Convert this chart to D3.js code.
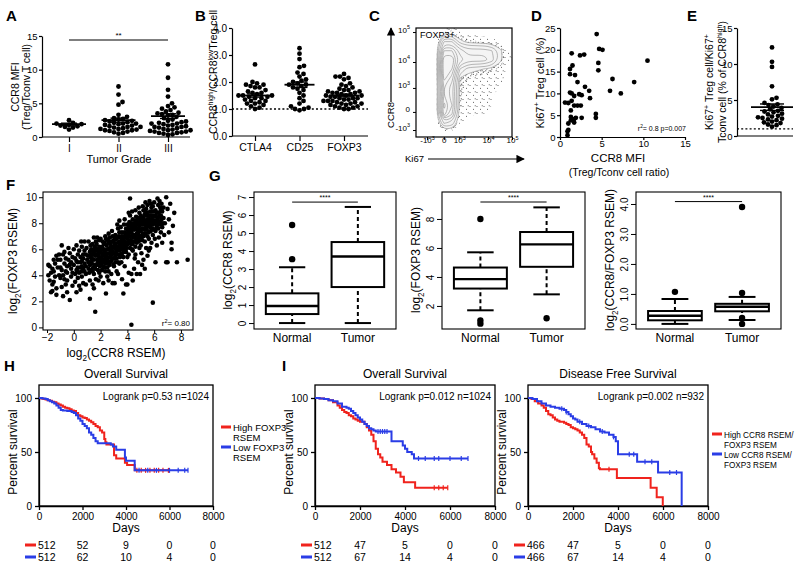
<!DOCTYPE html>
<html><head><meta charset="utf-8">
<script src="https://cdn.jsdelivr.net/npm/d3@7"></script>
<style>
html,body{margin:0;padding:0;background:#fff;}
svg{display:block;}
</style></head><body>
<svg id="fig" width="800" height="568"></svg>
<script>
// ================= DATA =================
// Panel A
const aGrades = ["I","II","III"];
const aGradeI = [2.5,2.1,2.0,1.9,1.8,1.7,1.6,1.5,1.4,1.1];
const aGradeII = [7.5,6.3,5.2,4.8,3.3,3.0,2.8,2.7,2.6,2.5,2.4,2.3,2.2,2.1,2.0,1.9,1.8,1.7,1.6,1.5,1.4,1.3,1.2,1.1,1.0,0.9,0.8,0.7,0.6,0.5,1.0,1.2,1.5,2.0];
const aGradeIII = [10.8,8.8,7.0,6.0,5.0,4.6,4.4,4.2,4.0,3.8,3.6,3.5,3.4,3.3,3.2,3.0,2.8,2.6,2.4,2.3,2.2,2.1,2.0,1.9,1.8,1.7,1.6,1.5,1.4,1.3,1.2,1.1,1.0,0.9,0.8,0.7,0.6,0.5,0.4,0.3,1.5,2.0,1.0,0.8,0.6];
const aMeans = [1.9,2.5,3.1];
const aSems = [0.15,0.3,0.35];
const aTicks = [0,5,10,15];
// Panel B
const bMarkers = ["CTLA4","CD25","FOXP3"];
const bCTLA4 = [2.65,2.0,1.95,1.9,1.9,1.85,1.8,1.8,1.7,1.65,1.6,1.6,1.55,1.5,1.5,1.45,1.4,1.4,1.35,1.3,1.3,1.25,1.2,1.2,1.15,1.1,1.05,1.0,1.5,1.45];
const bCD25 = [3.25,3.05,2.85,2.6,2.55,2.35,2.2,2.1,2.05,2.0,1.95,1.9,1.9,1.85,1.8,1.75,1.7,1.6,1.5,1.4,1.3,1.2,1.1,1.05,1.0,1.0,0.95,2.3];
const bFOXP3 = [2.3,2.2,2.2,2.15,2.1,1.95,1.9,1.85,1.8,1.75,1.7,1.7,1.65,1.6,1.6,1.55,1.55,1.5,1.5,1.5,1.45,1.45,1.4,1.4,1.4,1.35,1.35,1.3,1.3,1.3,1.25,1.25,1.2,1.2,1.2,1.15,1.15,1.1,1.1,1.05,1.05,1.0,1.0,1.6,1.65];
const bMeans = [1.5,1.9,1.5];
const bSems = [0.06,0.1,0.05];
const bTicks = [0,1,2,3,4];
// Panel C (flow plot, display channel 0..1)
const cXTicks = [0.115,0.29,0.45,0.75,1.0];
const cYTicks = [0.064,0.23,0.45,0.688,0.963];
const cTickBase = ["-10","0","10","10","10"];
const cTickExp = ["3","","3","4","5"];
const cDensity = [
 [0,0,0,0.6,0.8,0.3,0.2,0.1,0,0,0,0],
 [0,0,0,4,4,1.5,0.9,0.8,0.7,0.5,0.3,0],
 [0,0,0.1,7,7,4.5,3.5,3.5,3.5,3,1.5,0.3],
 [0,0,0.1,9,9,5.5,4.5,4.5,4.5,3.5,1.5,0.3],
 [0,0,0.1,9,8,3,1.6,1.4,1.2,1,0.6,0.2],
 [0,0,0.1,8.5,6.5,1.2,0.8,0.6,0.5,0.45,0.4,0.2],
 [0,0,0.1,7,5.5,0.9,0.6,0.5,0.45,0.4,0.3,0.1],
 [0,0,0.1,7,5.5,0.8,0.5,0.45,0.4,0.3,0.25,0.1],
 [0,0,0.1,8.5,6,0.8,0.5,0.4,0.3,0.3,0.2,0.1],
 [0,0,0.1,7.5,5,0.6,0.4,0.3,0.3,0.2,0.1,0],
 [0,0,0,3,2.5,0.3,0.2,0.1,0.1,0,0,0],
 [0,0,0,0.2,0.2,0,0,0,0,0,0,0]
];
const cLevels = [0.3,0.75,1.2,2,3,4,5,6,7,8];
// Panel D
const dPoints = [[4.4,23.6],[4.7,20.2],[5.1,20.0],[1.4,19.2],[2.4,18.7],[2.9,18.9],[10.5,17.5],[4.6,17.0],[4.6,15.3],[1.5,16.4],[1.2,15.6],[1.2,14.4],[1.8,14.2],[6.3,13.3],[8.9,12.6],[2.1,12.6],[3.0,11.5],[6.0,10.6],[7.3,10.0],[3.5,10.6],[1.2,10.2],[1.4,10.0],[2.3,9.8],[2.6,9.6],[3.6,8.9],[1.7,9.4],[0.6,7.9],[1.0,7.8],[1.4,8.3],[1.7,7.2],[2.1,7.2],[2.5,7.2],[1.3,6.1],[4.3,5.3],[4.3,4.4],[1.3,4.6],[1.7,4.1],[1.9,4.4],[2.6,4.4],[1.3,3.8],[1.7,3.3],[1.0,3.1],[1.0,1.6],[0.9,1.3],[0.9,0.4]];
const dXTicks = [0,5,10,15];
const dYTicks = [0,5,10,15,20,25];
// Panel E
const eValues = [12.3,10.3,9.6,6.9,5.3,5.1,4.6,4.4,4.3,4.1,3.9,3.7,3.5,3.4,3.3,3.1,3.0,2.8,2.7,2.6,2.5,2.4,2.3,2.2,2.0,1.9,1.8,1.6,1.5,1.3];
const eMean = 4.0, eSem = 0.45;
const eTicks = [0,5,10,15];
// Panel F
const fPoints = [
[-1.9,4.8],[-1.8,4.7],[-1.7,4.2],[-1.8,3.6],[-1.6,2.8],[-1.5,3.5],[-1.4,4.9],[-1.3,5.5],[-1.2,4.6],[-1.1,4.0],[-1.5,5.2],[-1.7,2.7],[-1.3,3.0],[-1.0,3.8],[-1.2,5.2],[-1.9,4.0],[-1.6,4.5],[-1.4,3.9],[-1.1,5.6],[-1.0,4.6],[-1.3,2.5],[-1.6,3.3],
[-0.9,6.3],[-0.8,5.6],[-0.7,4.9],[-0.6,4.3],[-0.5,3.6],[-0.4,5.2],[-0.3,2.1],[-0.9,3.1],[-0.8,4.0],[-0.7,5.8],[-0.6,3.3],[-0.5,4.7],[-0.4,6.1],[-0.2,4.5],[-0.1,5.4],[-0.2,3.9],[-0.1,3.2],[-0.9,4.4],[-0.6,5.3],[-0.3,4.8],[-0.5,2.7],[-0.8,2.4],[-0.3,5.7],[-0.1,4.2],[-0.7,3.7],
[0.0,4.8],[0.1,5.3],[0.2,4.4],[0.3,3.8],[0.4,5.9],[0.5,4.6],[0.6,5.1],[0.7,3.4],[0.8,4.9],[0.9,5.6],[0.1,3.5],[0.2,6.3],[0.3,5.0],[0.4,4.2],[0.5,2.9],[0.6,6.2],[0.7,4.5],[0.8,5.9],[0.9,4.1],[1.0,5.2],[0.0,6.0],[0.2,2.7],[0.3,4.6],[0.5,5.4],[0.6,3.9],[0.8,6.6],[0.9,3.3],[0.4,3.2],[0.7,5.6],[0.1,4.1],[0.3,5.6],[0.6,4.3],[0.8,4.3],[0.95,6.1],[0.55,6.6],
[1.1,4.5],[1.2,5.8],[1.3,5.1],[1.4,6.4],[1.5,4.1],[1.6,5.5],[1.7,4.8],[1.8,6.0],[1.9,5.3],[1.1,6.6],[1.2,3.6],[1.3,4.4],[1.4,5.6],[1.5,6.9],[1.6,4.5],[1.7,6.4],[1.8,5.0],[1.9,4.2],[1.6,1.2],[1.2,2.2],[1.4,3.3],[1.5,5.2],[1.7,5.6],[1.8,4.4],[1.3,6.0],[1.9,6.7],[1.1,5.0],[1.5,3.0],[1.65,3.7],[1.35,4.9],[1.75,6.9],[1.95,5.9],[1.25,5.4],[1.55,6.2],[1.85,3.6],[1.45,4.6],
[2.0,5.1],[2.1,6.2],[2.2,4.7],[2.3,5.8],[2.4,6.8],[2.5,5.4],[2.6,4.3],[2.7,6.1],[2.8,5.6],[2.9,7.0],[2.0,6.8],[2.1,4.4],[2.2,5.5],[2.3,6.5],[2.4,4.9],[2.5,6.0],[2.6,7.2],[2.7,5.0],[2.8,6.6],[2.9,5.3],[2.0,3.9],[2.2,3.4],[2.4,2.6],[2.6,3.6],[2.8,4.1],[2.1,5.7],[2.3,5.1],[2.5,4.6],[2.7,6.9],[2.9,6.1],[2.15,6.6],[2.35,4.3],[2.55,5.1],[2.75,5.9],[2.95,4.8],[2.05,4.8],[2.45,6.3],[2.65,5.7],[2.85,7.4],[2.25,6.0],[2.6,6.5],[2.9,3.4],[2.35,7.0],[2.8,5.1],[2.5,3.9],
[3.0,6.2],[3.1,5.5],[3.2,6.8],[3.3,5.0],[3.4,7.3],[3.5,6.4],[3.6,5.7],[3.7,7.0],[3.8,6.1],[3.9,7.6],[3.0,4.7],[3.1,7.1],[3.2,5.3],[3.3,6.5],[3.4,5.9],[3.5,7.7],[3.6,6.7],[3.7,5.4],[3.8,7.3],[3.9,6.5],[3.0,5.7],[3.1,6.4],[3.2,4.3],[3.3,7.6],[3.4,4.9],[3.5,5.5],[3.6,7.3],[3.7,6.2],[3.8,4.7],[3.9,5.8],[3.05,3.4],[3.25,7.9],[3.45,6.9],[3.65,6.0],[3.85,6.9],[3.15,6.0],[3.35,5.6],[3.55,6.1],[3.75,6.6],[3.95,7.0],[3.6,3.7],[3.7,2.6],[3.9,3.3],[3.4,8.2],[3.8,8.3],[3.3,4.1],[3.55,5.0],[3.75,7.9],[3.1,5.0],[3.45,6.3],
[4.0,6.8],[4.1,7.4],[4.2,6.1],[4.3,8.0],[4.4,7.1],[4.5,6.6],[4.6,7.8],[4.7,7.2],[4.8,8.4],[4.9,6.9],[4.0,7.9],[4.1,5.6],[4.2,7.0],[4.3,6.4],[4.4,8.3],[4.5,7.5],[4.6,6.2],[4.7,8.1],[4.8,7.6],[4.9,8.8],[4.0,5.4],[4.1,6.6],[4.2,8.6],[4.3,7.3],[4.4,5.9],[4.5,8.0],[4.6,7.0],[4.7,6.5],[4.8,6.8],[4.9,7.8],[4.05,7.2],[4.25,6.7],[4.45,7.7],[4.65,8.5],[4.85,7.1],[4.15,8.1],[4.35,6.0],[4.55,7.1],[4.75,7.5],[4.95,8.3],[4.2,9.9],[4.3,0.2],[4.1,4.2],[4.3,4.1],[4.5,4.5],[4.6,5.6],[4.8,5.0],[4.9,6.1],[4.4,3.6],[4.0,3.3],[4.7,4.1],[4.1,8.8],[4.6,9.0],[4.35,8.9],[4.55,5.3],[4.85,9.2],[4.95,4.1],
[5.0,7.4],[5.1,8.1],[5.2,7.0],[5.3,8.7],[5.4,7.7],[5.5,8.3],[5.6,7.3],[5.7,8.9],[5.8,7.9],[5.9,8.5],[5.0,8.6],[5.1,6.7],[5.2,8.4],[5.3,7.5],[5.4,9.1],[5.5,7.0],[5.6,8.6],[5.7,7.7],[5.8,9.2],[5.9,7.6],[5.0,6.3],[5.1,7.6],[5.2,9.0],[5.3,6.6],[5.4,8.2],[5.5,9.4],[5.6,6.8],[5.7,8.2],[5.8,8.6],[5.9,9.3],[5.05,5.7],[5.25,7.9],[5.45,8.8],[5.65,7.9],[5.85,8.1],[5.15,9.3],[5.35,8.0],[5.55,8.0],[5.75,9.5],[5.95,8.9],[5.2,5.2],[5.4,6.1],[5.6,5.9],[5.8,6.5],[5.3,4.5],[5.9,1.9],[5.5,5.5],[5.7,6.1],[5.1,4.8],[5.9,7.1],[5.35,9.6],[5.65,9.7],
[6.0,8.2],[6.1,9.0],[6.2,7.7],[6.3,9.4],[6.4,8.5],[6.5,7.3],[6.6,8.9],[6.7,9.2],[6.8,8.0],[6.9,10.0],[6.0,9.6],[6.1,7.4],[6.2,8.8],[6.3,8.1],[6.4,9.7],[6.5,8.6],[6.6,7.7],[6.7,8.4],[6.05,6.8],[6.1,5.0],[6.25,9.9],[6.45,9.2],[6.35,6.9],[6.55,9.5],[6.2,6.3],[6.6,6.5],[6.15,8.5],[6.75,7.1],[6.9,5.0],[6.4,7.9],[6.0,7.5],
[7.0,9.1],[7.1,8.3],[7.2,9.5],[7.3,6.0],[7.3,6.5],[7.5,8.8],[7.7,5.0],[8.5,5.2],[7.0,5.0],[7.4,7.8],[7.1,7.3],
[1.05,5.5],[1.15,4.2],[1.25,6.3],[1.35,5.3],[1.45,5.9],[1.55,4.8],[1.65,6.6],[1.75,5.2],[1.85,5.7],[1.95,4.7],
[2.05,5.4],[2.15,5.0],[2.25,6.4],[2.35,5.5],[2.45,5.7],[2.55,6.7],[2.65,4.8],[2.75,6.4],[2.85,5.8],[2.95,6.6],
[2.1,6.0],[2.3,4.6],[2.5,5.2],[2.7,5.4],[2.9,5.8],[2.2,5.2],[2.4,5.3],[2.6,6.0],[2.8,6.2],[3.0,6.7],
[3.05,6.4],[3.15,5.7],[3.25,6.2],[3.35,7.0],[3.45,5.4],[3.55,7.0],[3.65,6.4],[3.75,5.8],[3.85,6.3],[3.95,6.1],
[3.1,6.8],[3.2,5.9],[3.3,6.1],[3.4,6.6],[3.5,6.0],[3.6,6.2],[3.7,6.8],[3.8,6.6],[3.9,7.2],[3.0,5.3],
[4.05,6.4],[4.15,7.0],[4.25,7.5],[4.35,6.6],[4.45,6.9],[4.55,7.9],[4.65,6.8],[4.75,7.9],[4.85,6.6],[4.95,7.5],
[4.1,7.8],[4.2,6.5],[4.3,7.7],[4.4,6.4],[4.5,7.1],[4.6,8.2],[4.7,7.6],[4.8,7.3],[4.9,8.1],[4.0,7.5],
[5.05,7.9],[5.15,7.2],[5.25,8.2],[5.35,7.2],[5.45,7.5],[5.55,8.6],[5.65,8.3],[5.75,7.4],[5.85,8.9],[5.95,8.2],
[5.1,8.4],[5.2,7.6],[5.3,8.0],[5.4,8.6],[5.5,7.8],[5.6,7.9],[5.7,8.6],[5.8,8.3],[5.9,7.9],[5.0,7.0],
[6.05,8.6],[6.15,7.9],[6.25,8.3],[6.35,8.8],[6.45,8.1],[6.55,8.3],[6.65,8.0],[6.3,7.6],[6.5,9.0],[6.1,8.1],
[1.5,5.8],[1.7,5.9],[1.9,6.2],[1.3,5.6],[1.8,5.5],[1.6,6.1],[2.0,5.8],[1.4,4.3],[1.2,4.8],[1.9,4.9],
[0.5,5.0],[0.7,5.3],[0.3,4.3],[0.9,4.7],[0.2,5.1],[-0.2,5.0],[-0.5,4.2],[-1.0,5.2],[-1.5,4.3],[0.6,4.7]
];
const fXTicks = [-2,0,2,4,6,8];
const fYTicks = [0,2,4,6,8,10];
// Panel G  (box stats: [low whisker, Q1, median, Q3, high whisker])
const gGroups = ["Normal","Tumor"];
const g1Stats = [[0,0.5,0.95,1.65,3.1],[0,2.0,3.7,4.5,6.45]];
const g1Outliers = [[3.55,5.45],[]];
const g2Stats = [[1.7,3.2,3.85,4.65,5.7],[2.8,4.7,6.25,7.1,8.8]];
const g2Outliers = [[8.0,1.0,0.78],[1.15]];
const g3Stats = [[0,0.12,0.27,0.43,0.83],[0.13,0.42,0.57,0.67,0.9]];
const g3Outliers = [[1.07],[3.9,1.03,0.2,0.0]];
const gSigValues = [6.72,9.17,4.08];
// Panels H / I  (Kaplan-Meier steps: [day, percent surviving])
const kmTicks = [0,2000,4000,6000,8000];
const hHigh = [[0,100],[100,99.5],[200,99],[300,98.5],[400,98],[500,97.5],[600,96.5],[700,96],[800,95],[900,94],[1000,93],[1100,92],[1200,91],[1300,90.5],[1400,89.5],[1500,88.5],[1600,88],[1700,86],[1800,84],[1900,83],[2000,82],[2100,81.5],[2200,80],[2300,79],[2400,77.5],[2500,76],[2600,74],[2700,73],[2800,70],[2900,68],[3000,62],[3050,59],[3100,57],[3450,47],[3550,44],[3950,40],[4050,38],[4400,33],[5950,33]];
const hLow = [[0,100],[150,99.5],[300,99],[400,98],[500,97],[600,96],[700,95],[800,93],[900,91],[1000,89],[1100,88.5],[1300,88],[1500,87],[1600,86],[1700,84],[1800,81],[1900,79],[2000,76],[2100,74],[2200,72],[2300,68],[2400,66],[2500,63],[2600,60],[2700,58],[3300,57],[3400,55],[3550,52],[3950,45],[4000,42],[4400,33],[6850,33]];
const hHighCensor = [4500,4700,4900,5100,5300,5500,5700,5950];
const hLowCensor = [4600,5000,5400,6000,6400,6700,6850];
const iOsHigh = [[0,100],[200,99.5],[400,99],[600,98],[800,96],[1000,93],[1100,91],[1200,89],[1300,87],[1400,86],[1500,84],[1600,83],[1700,81],[1800,80],[1900,79],[2000,78],[2200,76],[2300,73],[2400,70],[2500,66],[2600,60],[2700,53],[2800,48],[2900,45],[3000,41],[3200,38],[3400,34],[3600,31],[3800,27],[3950,22],[4450,17],[5900,17]];
const iOsLow = [[0,100],[200,99.5],[400,99],[600,98],[800,97],[1000,95],[1200,92],[1400,91],[1500,90],[1600,88],[1700,86],[1800,84],[1900,82],[2000,80],[2100,78],[2200,76],[2300,74],[2400,72],[2500,71],[2600,70],[2700,69],[3400,60],[3900,56],[4000,53],[4100,50],[4300,48],[4400,44],[6800,44]];
const iOsHighCensor = [5300,5500,5700,5900];
const iOsLowCensor = [2800,2900,3000,3100,3200,4600,4900,5300,5500,6000,6500,6800];
const iDfsHigh = [[0,100],[150,99],[300,97],[450,95],[600,93],[700,91],[800,88],[900,85],[1000,84],[1100,82],[1200,80],[1300,79],[1400,78],[1600,77],[1700,76],[1800,75],[1900,73],[2000,72],[2100,71],[2200,70],[2300,68],[2400,66],[2500,63],[2600,57],[2700,55],[2800,50],[2850,48],[2950,44],[3050,40],[3150,35],[3200,34],[3950,26],[5450,17],[5720,8],[5990,0]];
const iDfsLow = [[0,100],[200,99],[400,97],[600,95],[800,93],[1000,92],[1200,91],[1400,90],[1600,89],[1700,87],[1800,85],[1900,83],[2000,81],[2100,80],[2200,78],[2400,76],[2600,74],[2800,73],[3000,71],[3200,69],[3400,68],[3600,66],[3800,64],[3900,60],[4000,48],[4850,41],[5780,31],[6830,0]];
const iDfsHighCensor = [3600];
const iDfsLowCensor = [1500,1700,2300,2700,3300,3800,4500,4700,5200,5500,6300,6600];
const hRiskHigh = [512,52,9,0,0], hRiskLow = [512,62,10,4,0];
const iOsRiskHigh = [512,47,5,0,0], iOsRiskLow = [512,67,14,4,0];
const iDfsRiskHigh = [466,47,5,0,0], iDfsRiskLow = [466,67,14,4,0];

// ================= DRAWING =================
const FONT = '"Liberation Sans", Arial, Helvetica, sans-serif';
const RED = "#f0231d", BLUE = "#2a3de6";
const svg = d3.select("#fig").attr("font-family", FONT);
const defs = svg.append("defs");

function styleAxis(g, fs, sw) {
  g.attr("font-family", FONT).attr("font-size", fs);
  g.selectAll(".domain").attr("stroke", "#000").attr("stroke-width", sw || 1.2);
  g.selectAll(".tick line").attr("stroke", "#000").attr("stroke-width", sw || 1.2);
  g.selectAll(".tick text").attr("fill", "#000");
  return g;
}
function rich(t, parts, fs) {
  let shift = 0;
  parts.forEach(p => {
    const k = p[1] || "";
    const target = k === "sup" ? -0.42 * fs : (k === "sub" ? 0.3 * fs : 0);
    const ts = t.append("tspan").attr("dy", target - shift).text(p[0]);
    if (k) ts.attr("font-size", fs * 0.68);
    shift = target;
  });
  return t;
}
function text(x, y, s, fs, anchor) {
  return svg.append("text").attr("x", x).attr("y", y).attr("font-size", fs)
    .attr("text-anchor", anchor || "start").attr("fill", "#000").text(s);
}
function rotText(x, y, fs) {
  return svg.append("text").attr("transform", `translate(${x},${y}) rotate(-90)`)
    .attr("font-size", fs).attr("text-anchor", "middle").attr("fill", "#000");
}
function panelLabel(s, x, y) { text(x, y, s, 15).attr("font-weight", "bold"); }
function hline(x1, x2, y, sw, dash) {
  const l = svg.append("line").attr("x1", x1).attr("x2", x2).attr("y1", y).attr("y2", y)
    .attr("stroke", "#000").attr("stroke-width", sw || 1.2);
  if (dash) l.attr("stroke-dasharray", dash);
  return l;
}
function swarm(vals, cx, y, r) {
  const placed = [];
  const sorted = vals.slice().sort((a, b) => a - b);
  const minD = 1.85 * r;
  for (const v of sorted) {
    const py = y(v);
    for (let k = 0; k < 400; k++) {
      const m = Math.ceil(k / 2) * 0.5;
      const px = cx + (k % 2 === 1 ? m : -m);
      if (!placed.some(p => (p.x - px) ** 2 + (p.y - py) ** 2 < minD * minD)) { placed.push({x: px, y: py}); break; }
    }
  }
  return placed;
}
function dotColumn(vals, cx, y, r, mean, sem, meanW, capW) {
  const g = svg.append("g");
  g.selectAll("circle").data(swarm(vals, cx, y, r)).join("circle")
    .attr("cx", d => d.x).attr("cy", d => d.y).attr("r", r).attr("fill", "#000");
  const ln = (x1, x2, y1, y2, sw) => g.append("line").attr("x1", x1).attr("x2", x2).attr("y1", y1).attr("y2", y2)
    .attr("stroke", "#000").attr("stroke-width", sw);
  ln(cx - meanW / 2, cx + meanW / 2, y(mean), y(mean), 1.8);
  ln(cx, cx, y(mean - sem), y(mean + sem), 1.4);
  ln(cx - capW / 2, cx + capW / 2, y(mean + sem), y(mean + sem), 1.4);
  ln(cx - capW / 2, cx + capW / 2, y(mean - sem), y(mean - sem), 1.4);
}

// ---------- Panel A ----------
{
  panelLabel("A", 6, 21);
  const y = d3.scaleLinear().domain([0, 15]).range([137, 36]);
  const x = d3.scalePoint().domain(aGrades).range([69, 168]);
  styleAxis(svg.append("g").attr("transform", "translate(42,0)")
    .call(d3.axisLeft(y).tickValues(aTicks).tickSize(3).tickPadding(1.5).tickSizeOuter(0)), 9.5);
  const gx = svg.append("g").attr("transform", "translate(0,137)")
    .call(d3.axisBottom(x).tickSize(5).tickSizeOuter(0));
  styleAxis(gx, 10); gx.select(".domain").remove();
  hline(42, 190, 137);
  [aGradeI, aGradeII, aGradeIII].forEach((vals, i) =>
    dotColumn(vals, x(aGrades[i]), y, 2.4, aMeans[i], aSems[i], 34, 16));
  hline(x("I"), x("III"), 40, 1.2);
  text((x("I") + x("III")) / 2, 38, "**", 8, "middle");
  rotText(19, 87, 10.5).text("CCR8 MFI");
  rotText(30, 87, 10.5).text("(Treg/Tconv T cell)");
  text(119, 163, "Tumor Grade", 11, "middle");
}
// ---------- Panel B ----------
{
  panelLabel("B", 195, 21);
  const y = d3.scaleLinear().domain([0, 4]).range([136, 28]);
  const x = d3.scalePoint().domain(bMarkers).range([255, 344]);
  styleAxis(svg.append("g").attr("transform", "translate(232,0)")
    .call(d3.axisLeft(y).tickValues(bTicks).tickSize(3).tickPadding(2).tickSizeOuter(0)), 10);
  const gx = svg.append("g").attr("transform", "translate(0,136)")
    .call(d3.axisBottom(x).tickSize(5).tickSizeOuter(0));
  styleAxis(gx, 10.5); gx.select(".domain").remove();
  hline(232, 368, 136);
  hline(232, 368, y(1), 1.5, "2,2.2");
  [bCTLA4, bCD25, bFOXP3].forEach((vals, i) =>
    dotColumn(vals, x(bMarkers[i]), y, 2.4, bMeans[i], bSems[i], 30, 16));
  rich(rotText(217, 72, 10.5), [["CCR8"], ["high", "sup"], ["/CCR8"], ["low", "sup"], ["Treg cell"]], 10.5);
}
// ---------- Panel C ----------
{
  panelLabel("C", 369, 21);
  const X0 = 416, X1 = 512, Y0 = 28, Y1 = 137;
  const cx = d3.scaleLinear().domain([0, 1]).range([X0, X1]);
  const cy = d3.scaleLinear().domain([0, 1]).range([Y1, Y0]);
  const n = cDensity[0].length, m = cDensity.length;
  const gxs = d3.scaleLinear().domain([0, n]).range([X0, X1]);
  const gys = d3.scaleLinear().domain([0, m]).range([Y0, Y1]);
  const pA = defs.append("pattern").attr("id", "stipA").attr("patternUnits", "userSpaceOnUse").attr("width", 7).attr("height", 7);
  [[1, 1.5], [4.5, 4.2], [6.2, 0.8]].forEach(p => pA.append("circle").attr("cx", p[0]).attr("cy", p[1]).attr("r", 0.5).attr("fill", "#333"));
  const pB = defs.append("pattern").attr("id", "stipB").attr("patternUnits", "userSpaceOnUse").attr("width", 5).attr("height", 5);
  [[0.8, 0.8], [3.3, 2.2], [1.8, 4.0]].forEach(p => pB.append("circle").attr("cx", p[0]).attr("cy", p[1]).attr("r", 0.55).attr("fill", "#222"));
  defs.append("clipPath").attr("id", "cclip").append("rect").attr("x", X0).attr("y", Y0).attr("width", X1 - X0).attr("height", Y1 - Y0);
  const contours = d3.contours().size([n, m]).thresholds(cLevels)(cDensity.flat());
  const ring = d3.line().x(p => gxs(p[0])).y(p => gys(p[1])).curve(d3.curveBasisClosed);
  const pathOf = mp => mp.coordinates.map(poly => poly.map(r => ring(r.slice(0, -1))).join("")).join("");
  const gc = svg.append("g").attr("clip-path", "url(#cclip)");
  contours.forEach((c, i) => {
    const p = gc.append("path").attr("d", pathOf(c)).attr("fill-rule", "evenodd");
    if (i === 0) p.attr("fill", "url(#stipA)").attr("stroke", "none");
    else if (i === 1) p.attr("fill", "url(#stipB)").attr("stroke", "none");
    else if (i === 2) p.attr("fill", "#f4f4f4").attr("stroke", "#8a8a8a").attr("stroke-width", 0.6);
    else p.attr("fill", "none").attr("stroke", "#808080").attr("stroke-width", 0.55);
  });
  svg.append("rect").attr("x", X0).attr("y", Y0).attr("width", X1 - X0).attr("height", Y1 - Y0)
    .attr("fill", "none").attr("stroke", "#000").attr("stroke-width", 1.2);
  const ay = svg.append("g").attr("transform", `translate(${X0},0)`)
    .call(d3.axisLeft(cy).tickValues(cYTicks).tickSize(3).tickFormat(() => ""));
  styleAxis(ay, 8, 1); ay.select(".domain").remove();
  ay.selectAll(".tick text").each(function(d, i) {
    const t = d3.select(this).text(null).attr("font-size", 8);
    rich(t, [[cTickBase[i]], cTickExp[i] ? [cTickExp[i], "sup"] : [""]], 8);
  });
  const ax = svg.append("g").attr("transform", `translate(0,${Y1})`)
    .call(d3.axisBottom(cx).tickValues(cXTicks).tickSize(3).tickFormat(() => ""));
  styleAxis(ax, 8, 1); ax.select(".domain").remove();
  ax.selectAll(".tick text").each(function(d, i) {
    const t = d3.select(this).text(null).attr("font-size", 8).attr("dy", "1.25em");
    rich(t, [[cTickBase[i]], cTickExp[i] ? [cTickExp[i], "sup"] : [""]], 8);
  });
  text(X0 + 4, Y0 + 10, "FOXP3+", 9);
  defs.append("marker").attr("id", "arr").attr("viewBox", "0 0 10 10").attr("refX", 9).attr("refY", 5)
    .attr("markerWidth", 7).attr("markerHeight", 7).attr("orient", "auto")
    .append("path").attr("d", "M0,0 L10,5 L0,10 z").attr("fill", "#000");
  svg.append("line").attr("x1", 391).attr("x2", 391).attr("y1", 102).attr("y2", 28)
    .attr("stroke", "#000").attr("stroke-width", 1.2).attr("marker-end", "url(#arr)");
  rotText(394, 115, 9.5).text("CCR8");
  text(405, 162, "Ki67", 9.5);
  svg.append("line").attr("x1", 428).attr("x2", 524).attr("y1", 159).attr("y2", 159)
    .attr("stroke", "#000").attr("stroke-width", 1.2).attr("marker-end", "url(#arr)");
}
// ---------- Panel D ----------
{
  panelLabel("D", 531, 21);
  const x = d3.scaleLinear().domain([0, 15]).range([560, 685]);
  const y = d3.scaleLinear().domain([0, 25]).range([137, 28]);
  styleAxis(svg.append("g").attr("transform", "translate(560,0)")
    .call(d3.axisLeft(y).tickValues(dYTicks).tickSize(3).tickPadding(1.5).tickSizeOuter(0)), 9.5);
  styleAxis(svg.append("g").attr("transform", "translate(0,137)")
    .call(d3.axisBottom(x).tickValues(dXTicks).tickSize(3).tickPadding(0.5).tickSizeOuter(0)), 9.5);
  svg.append("g").selectAll("circle").data(dPoints).join("circle")
    .attr("cx", d => x(d[0])).attr("cy", d => y(d[1])).attr("r", 2.4).attr("fill", "#000");
  rich(text(686, 131, "", 7, "end"), [["r"], ["2", "sup"], ["= 0.8 p=0.007"]], 7);
  rich(rotText(544, 83, 11), [["Ki67"], ["+", "sup"], [" Treg cell (%)"]], 11);
  text(618, 162, "CCR8 MFI", 11.5, "middle");
  text(619, 176, "(Treg/Tconv cell ratio)", 10.5, "middle");
}
// ---------- Panel E ----------
{
  panelLabel("E", 687, 21);
  const y = d3.scaleLinear().domain([0, 15]).range([136, 28]);
  styleAxis(svg.append("g").attr("transform", "translate(737,0)")
    .call(d3.axisLeft(y).tickValues(eTicks).tickSize(3).tickPadding(1.5).tickSizeOuter(0)), 9.5);
  hline(737, 793, 136);
  hline(737, 793, y(1), 1.3, "2,2.2");
  dotColumn(eValues, 772, y, 2.4, eMean, eSem, 42, 24);
  rich(rotText(713, 82, 10.5), [["Ki67"], ["+", "sup"], [" Treg cell/Ki67"], ["+", "sup"]], 10.5);
  rich(rotText(726, 82, 10.5), [["Tconv cell (% of CCR8"], ["high", "sup"], [")"]], 10.5);
}
// ---------- Panel F ----------
{
  panelLabel("F", 6, 190);
  const X0 = 43, X1 = 193, Y0 = 192, Y1 = 330;
  const x = d3.scaleLinear().domain([-2.3, 8.9]).range([X0, X1]);
  const y = d3.scaleLinear().domain([-0.2, 10.4]).range([Y1, Y0]);
  svg.append("g").selectAll("circle").data(fPoints).join("circle")
    .attr("cx", d => x(d[0])).attr("cy", d => y(d[1])).attr("r", 2.3).attr("fill", "#000");
  svg.append("rect").attr("x", X0).attr("y", Y0).attr("width", X1 - X0).attr("height", Y1 - Y0)
    .attr("fill", "none").attr("stroke", "#000").attr("stroke-width", 1.1);
  const ay = styleAxis(svg.append("g").attr("transform", `translate(${X0},0)`)
    .call(d3.axisLeft(y).tickValues(fYTicks).tickSize(4).tickPadding(2)), 10, 1);
  ay.select(".domain").remove();
  const ax = styleAxis(svg.append("g").attr("transform", `translate(0,${Y1})`)
    .call(d3.axisBottom(x).tickValues(fXTicks).tickSize(3).tickPadding(1)), 10, 1);
  ax.select(".domain").remove();
  ax.selectAll(".tick text").text(d => d < 0 ? "\u2212" + Math.abs(d) : d);
  rich(text(190, 326, "", 8, "end"), [["r"], ["2", "sup"], ["= 0.80"]], 8);
  rich(text(116, 357, "", 12, "middle"), [["log"], ["2", "sub"], ["(CCR8 RSEM)"]], 12);
  rich(rotText(17, 261, 12), [["log"], ["2", "sub"], ["(FOXP3 RSEM)"]], 12);
}
// ---------- Panel G ----------
panelLabel("G", 209, 181);
function boxPanel(X0, X1, yDom, ticks, stats, outliers, sigV, ylabParts) {
  const Y0 = 192, Y1 = 329;
  const x = d3.scaleLinear().domain([0.42, 2.58]).range([X0, X1]);
  const y = d3.scaleLinear().domain(yDom).range([Y1, Y0]);
  const unit = x(2) - x(1), bw = unit * 0.8, cw = unit * 0.4;
  const g = svg.append("g");
  const ln = (x1, x2, y1, y2, sw, dash) => {
    const l = g.append("line").attr("x1", x1).attr("x2", x2).attr("y1", y1).attr("y2", y2)
      .attr("stroke", "#000").attr("stroke-width", sw);
    if (dash) l.attr("stroke-dasharray", dash);
  };
  stats.forEach((s, i) => {
    const c = x(i + 1);
    ln(c, c, y(s[0]), y(s[1]), 2, "4,3");
    ln(c, c, y(s[3]), y(s[4]), 2, "4,3");
    ln(c - cw / 2, c + cw / 2, y(s[0]), y(s[0]), 2);
    ln(c - cw / 2, c + cw / 2, y(s[4]), y(s[4]), 2);
    g.append("rect").attr("x", c - bw / 2).attr("y", y(s[3])).attr("width", bw).attr("height", y(s[1]) - y(s[3]))
      .attr("fill", "#fff").attr("stroke", "#000").attr("stroke-width", 2);
    ln(c - bw / 2, c + bw / 2, y(s[2]), y(s[2]), 2.4);
    g.selectAll(null).data(outliers[i]).join("circle").attr("cx", c).attr("cy", v => y(v)).attr("r", 3.2).attr("fill", "#000");
    text(c, 342, gGroups[i], 12, "middle");
  });
  ln(x(1), x(2), y(sigV), y(sigV), 1);
  text((x(1) + x(2)) / 2, y(sigV) - 2, "****", 7, "middle");
  svg.append("rect").attr("x", X0).attr("y", Y0).attr("width", X1 - X0).attr("height", Y1 - Y0)
    .attr("fill", "none").attr("stroke", "#000").attr("stroke-width", 1.1);
  const ay = svg.append("g").attr("transform", `translate(${X0},0)`)
    .call(d3.axisLeft(y).tickValues(ticks).tickSize(5).tickSizeOuter(0));
  styleAxis(ay, 10, 1); ay.select(".domain").remove();
  ay.selectAll(".tick text").attr("x", 0).attr("dy", 0).attr("text-anchor", "middle")
    .attr("transform", "translate(-8,0) rotate(-90)");
  rich(rotText(X0 - 22, 260, 12), ylabParts, 12);
}
boxPanel(254, 396, [-0.33, 7.28], [0,1,2,3,4,5,6,7], g1Stats, g1Outliers, gSigValues[0], [["log"], ["2", "sub"], ["(CCR8 RSEM)"]]);
boxPanel(442, 585, [0.41, 9.86], [2,4,6,8], g2Stats, g2Outliers, gSigValues[1], [["log"], ["2", "sub"], ["(FOXP3 RSEM)"]]);
boxPanel(636, 781, [-0.17, 4.4], [0,1,2,3,4], g3Stats, g3Outliers, gSigValues[2], [["log"], ["2", "sub"], ["(CCR8/FOXP3 RSEM)"]]);

// ---------- Panels H / I ----------
function survAt(curve, t) { let s = 100; for (const p of curve) if (p[0] <= t) s = p[1]; return s; }
function kmPanel(cfg) {
  const Ytop = 385, Ybot = 506;
  const x = d3.scaleLinear().domain([0, 8000]).range([cfg.x0, cfg.x1]);
  const y = d3.scaleLinear().domain([0, 100]).range([Ybot, 398]);
  text((cfg.x0 + cfg.x1) / 2, 378, cfg.title, 12, "middle");
  svg.append("rect").attr("x", cfg.x0).attr("y", Ytop).attr("width", cfg.x1 - cfg.x0).attr("height", Ybot - Ytop)
    .attr("fill", "none").attr("stroke", "#000").attr("stroke-width", 1.3);
  styleAxis(svg.append("g").attr("transform", `translate(0,${Ybot})`)
    .call(d3.axisBottom(x).tickValues(kmTicks).tickFormat(d3.format("d")).tickSize(4).tickSizeOuter(0)), 10, 1.3);
  styleAxis(svg.append("g").attr("transform", `translate(${cfg.x0},0)`)
    .call(d3.axisLeft(y).tickValues([0, 50, 100]).tickSize(4).tickSizeOuter(0)), 10, 1.3);
  const line = d3.line().x(d => x(d[0])).y(d => y(d[1])).curve(d3.curveStepAfter);
  [[cfg.high, cfg.highC, RED], [cfg.low, cfg.lowC, BLUE]].forEach(([curve, cens, col]) => {
    svg.append("path").attr("d", line(curve)).attr("fill", "none").attr("stroke", col).attr("stroke-width", 2);
    svg.append("g").selectAll("line").data(cens).join("line")
      .attr("x1", t => x(t)).attr("x2", t => x(t))
      .attr("y1", t => y(survAt(curve, t)) - 2.5).attr("y2", t => y(survAt(curve, t)) + 2.5)
      .attr("stroke", col).attr("stroke-width", 1.2);
  });
  text(cfg.x1 - 4, 400, cfg.logrank, 10, "end");
  text((cfg.x0 + cfg.x1) / 2, 532, "Days", 12, "middle");
  rotText(cfg.x0 - 22, 452, 12).text("Percent survival");
  [[cfg.riskHigh, RED, 549], [cfg.riskLow, BLUE, 561]].forEach(([vals, col, yy]) => {
    svg.append("line").attr("x1", x(0) - 14).attr("x2", x(0) - 3).attr("y1", yy - 4).attr("y2", yy - 4)
      .attr("stroke", col).attr("stroke-width", 3);
    vals.forEach((v, i) => text(i === 0 ? x(0) - 1 : x(kmTicks[i]), yy, v, 10.5, i === 0 ? "start" : "middle"));
  });
  if (cfg.legend) {
    const L = cfg.legend;
    [[RED, L.high, L.y], [BLUE, L.low, L.y + 20]].forEach(([col, lines, yy]) => {
      svg.append("line").attr("x1", L.x).attr("x2", L.x + 10).attr("y1", yy).attr("y2", yy)
        .attr("stroke", col).attr("stroke-width", 3);
      lines.forEach((s, k) => text(L.x + 12, yy + 3.5 + k * 10, s, L.fs));
    });
  }
}
panelLabel("H", 4, 371);
panelLabel("I", 282, 371);
kmPanel({x0: 39, x1: 213, title: "Overall Survival", high: hHigh, low: hLow, highC: hHighCensor, lowC: hLowCensor,
  logrank: "Logrank p=0.53 n=1024", riskHigh: hRiskHigh, riskLow: hRiskLow,
  legend: {x: 221, y: 427, fs: 9.5, high: ["High FOXP3", "RSEM"], low: ["Low FOXP3", "RSEM"]}});
kmPanel({x0: 315, x1: 495, title: "Overall Survival", high: iOsHigh, low: iOsLow, highC: iOsHighCensor, lowC: iOsLowCensor,
  logrank: "Logrank p=0.012 n=1024", riskHigh: iOsRiskHigh, riskLow: iOsRiskLow});
kmPanel({x0: 528, x1: 708, title: "Disease Free Survival", high: iDfsHigh, low: iDfsLow, highC: iDfsHighCensor, lowC: iDfsLowCensor,
  logrank: "Logrank p=0.002 n=932", riskHigh: iDfsRiskHigh, riskLow: iDfsRiskLow,
  legend: {x: 712, y: 434, fs: 8.2, high: ["High CCR8 RSEM/", "FOXP3 RSEM"], low: ["Low CCR8 RSEM/", "FOXP3 RSEM"]}});
</script>
</body></html>
